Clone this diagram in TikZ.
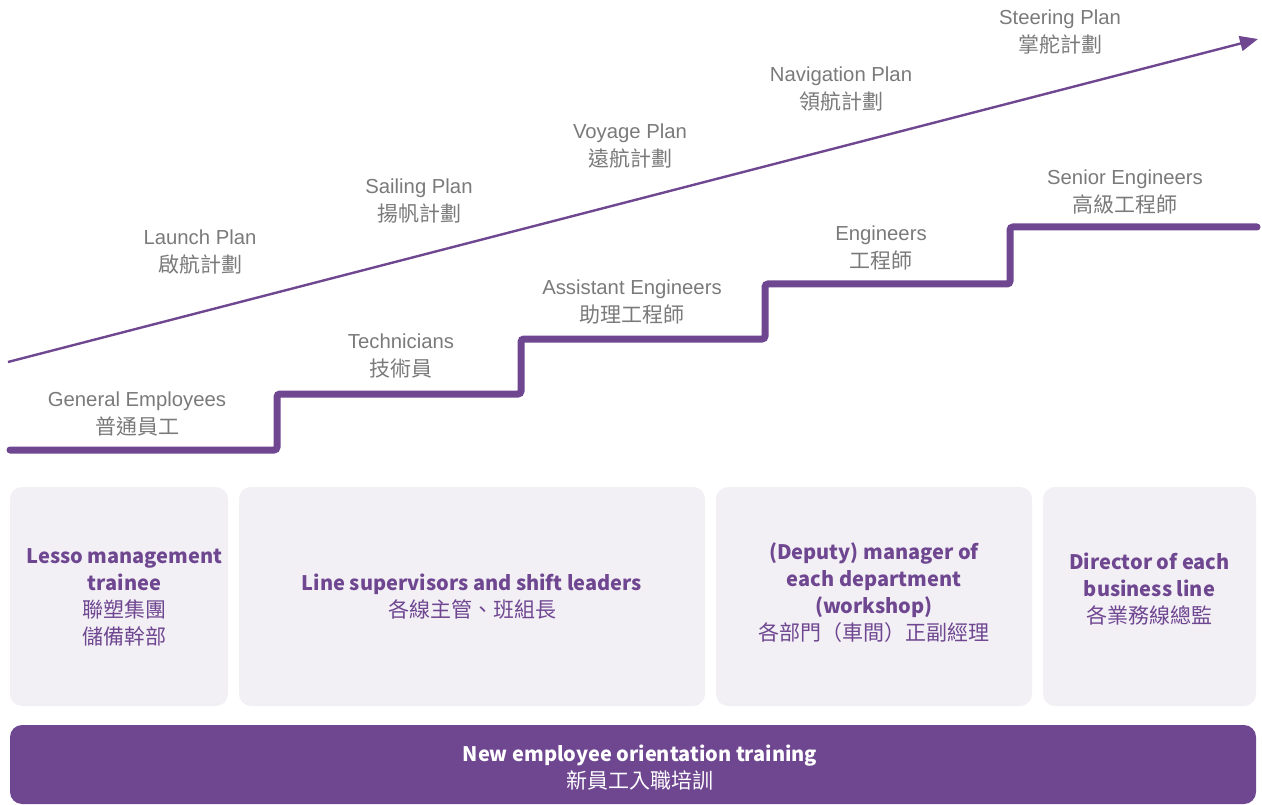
\documentclass[tikz,border=0pt]{standalone}
\usepackage{fontspec}
\setmainfont{Liberation Sans}
\newfontfamily\cjk{Noto Sans CJK TC}
\usetikzlibrary{arrows.meta}
\definecolor{lpurple}{HTML}{6F4791}
\definecolor{zhpurple}{HTML}{8463A6}
\definecolor{boxfill}{HTML}{F2EFF5}
\definecolor{lblgray}{HTML}{7A7A7A}
\newcommand{\lblzh}[1]{{\cjk\fontsize{21}{28}\selectfont #1}}
\newcommand{\cardzh}[1]{{\fontsize{21}{27}\selectfont\mdseries #1}}
\tikzset{
  lbl/.style={align=center, text=lblgray, font=\fontsize{20.3}{28}\selectfont, inner sep=0pt},
  card/.style={fill=boxfill, rounded corners=12pt, draw=none},
  cardtext/.style={align=center, text=lpurple, font=\cjk\bfseries\fontsize{20}{27}\selectfont, inner sep=0pt},
  stairs/.style={draw=lpurple, line width=7pt, line cap=round, rounded corners=3pt},
  growth/.style={draw=lpurple, line width=2.4pt, -{Triangle[length=18pt,width=15pt]}},
}
\begin{document}
\begin{tikzpicture}[x=1pt,y=-1pt]
\useasboundingbox (0,0) rectangle (1262,805);
% staircase
\coordinate (s0) at (10,450);
\coordinate (s1) at (277,450);
\coordinate (s2) at (277,394);
\coordinate (s3) at (521,394);
\coordinate (s4) at (521,339);
\coordinate (s5) at (765,339);
\coordinate (s6) at (765,284);
\coordinate (s7) at (1010,284);
\coordinate (s8) at (1010,227);
\coordinate (s9) at (1257,227);
\draw[stairs] (s0) -- (s1) -- (s2) -- (s3) -- (s4) -- (s5) -- (s6) -- (s7) -- (s8) -- (s9);
% growth arrow
\coordinate (a0) at (8,362);
\coordinate (a1) at (1258,39);
\draw[growth] (a0) -- (a1);
% step labels
\node[lbl] (ge) at (137,414) {General Employees\\\lblzh{普通員工}};
\node[lbl] (te) at (401,356) {Technicians\\\lblzh{技術員}};
\node[lbl] (ae) at (632,302) {Assistant Engineers\\\lblzh{助理工程師}};
\node[lbl] (en) at (881,248) {Engineers\\\lblzh{工程師}};
\node[lbl] (se) at (1125,192) {Senior Engineers\\\lblzh{高級工程師}};
% plan labels
\node[lbl] (lp) at (200,252) {Launch Plan\\\lblzh{啟航計劃}};
\node[lbl] (sp) at (419,201) {Sailing Plan\\\lblzh{揚帆計劃}};
\node[lbl] (vp) at (630,146) {Voyage Plan\\\lblzh{遠航計劃}};
\node[lbl] (np) at (841,89) {Navigation Plan\\\lblzh{領航計劃}};
\node[lbl] (stp) at (1060,32) {Steering Plan\\\lblzh{掌舵計劃}};
% cards
\path[card] (10,487) rectangle (228,706);
\path[card] (239,487) rectangle (705,706);
\path[card] (716,487) rectangle (1032,706);
\path[card] (1043,487) rectangle (1256,706);
\node[cardtext] (c1) at (124.5,597) {Lesso management\\trainee\\\cardzh{聯塑集團}\\\cardzh{儲備幹部}};
\node[cardtext] (c2) at (472,597) {Line supervisors and shift leaders\\\cardzh{各線主管、班組長}};
\node[cardtext] (c3) at (874,593) {(Deputy) manager of\\each department\\(workshop)\\\cardzh{各部門（車間）正副經理}};
\node[cardtext] (c4) at (1149.5,589) {Director of each\\business line\\\cardzh{各業務線總監}};
% bottom bar
\path[fill=lpurple, rounded corners=12pt] (10,725) rectangle (1256,804);
\node[cardtext, text=white] (nb) at (640,768) {New employee orientation training\\\cardzh{新員工入職培訓}};
\end{tikzpicture}
\end{document}
